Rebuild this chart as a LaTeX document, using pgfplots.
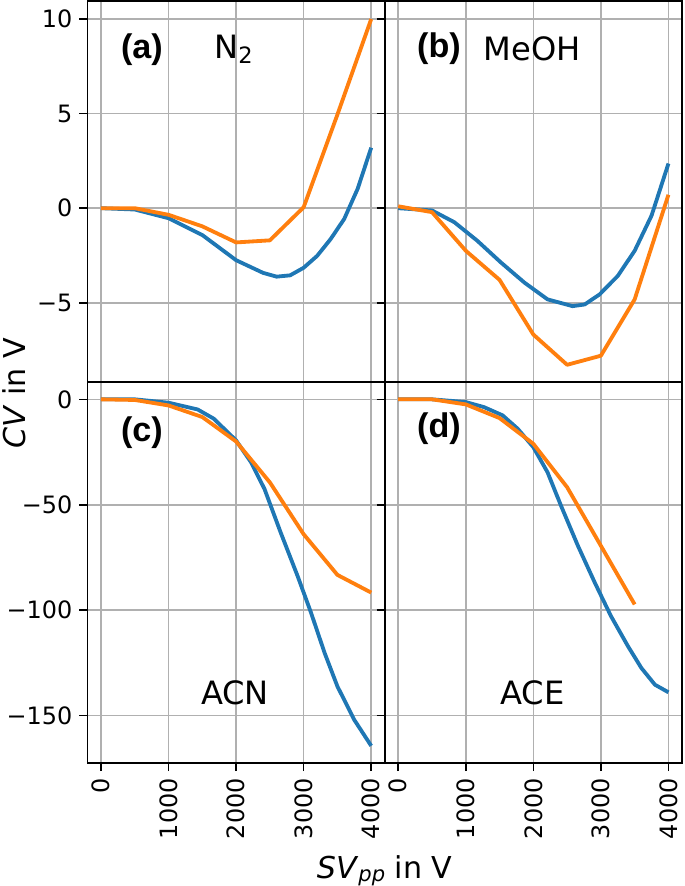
\documentclass[border=0pt]{standalone}
\usepackage{fontspec}
\setmainfont{DejaVu Sans}
\newfontfamily\arialfont{Liberation Sans}
\usepackage{pgfplots}
\pgfplotsset{compat=1.18}
\usepgfplotslibrary{groupplots}
\definecolor{mplblue}{HTML}{1F77B4}
\definecolor{mplorange}{HTML}{FF7F0E}
\begin{document}
\begin{tikzpicture}
\begin{groupplot}[
  group style={group size=2 by 2, horizontal sep=0pt, vertical sep=0pt, group name=G},
  scale only axis, width=148pt, height=189.75pt,
  xmin=-200, xmax=4200,
  xtick={0,1000,2000,3000,4000},
  grid=major, major grid style={color=black!31, line width=0.8pt},
  axis line style={line width=0.9pt},
  tick align=outside, tick pos=left,
  major tick length=4pt, tick style={black, line width=0.8pt},
  tick label style={font=\fontsize{11.9}{14}\selectfont},
  xticklabel style={rotate=90, anchor=east},
  every axis plot/.append style={line width=1.9pt, line join=round, no marks},
]
% (a) N2
\nextgroupplot[ymin=-9.19, ymax=10.96, ytick={-5,0,5,10}, yticklabels={−5,0,5,10}, xticklabels={}]
\addplot[mplblue] coordinates {(0,0) (500,-0.07) (1000,-0.53) (1500,-1.42) (2000,-2.75) (2400,-3.42) (2600,-3.62) (2800,-3.55) (3000,-3.15) (3200,-2.52) (3400,-1.63) (3600,-0.57) (3800,1.03) (4000,3.2)};
\addplot[mplorange] coordinates {(0,0) (500,0) (1000,-0.35) (1500,-0.96) (2000,-1.81) (2500,-1.70) (3000,0.05) (3500,4.95) (4000,10)};
\node[font=\fontsize{17}{20}\selectfont\arialfont\bfseries] at (axis cs:607,8.4) {(a)};
\node[font=\fontsize{16}{19}\selectfont] at (axis cs:1970,8.4) {N\textsubscript{2}};
% (b) MeOH
\nextgroupplot[ymin=-9.19, ymax=10.96, ytick={-5,0,5,10}, yticklabels={}, xticklabels={}]
\addplot[mplblue] coordinates {(0,0) (500,-0.12) (830,-0.74) (1170,-1.72) (1520,-2.87) (1870,-3.94) (2210,-4.82) (2580,-5.18) (2760,-5.09) (2980,-4.56) (3250,-3.58) (3500,-2.25) (3750,-0.39) (4000,2.36)};
\addplot[mplorange] coordinates {(0,0.1) (500,-0.21) (1000,-2.25) (1500,-3.79) (2000,-6.68) (2500,-8.28) (3000,-7.80) (3500,-4.82) (4000,0.71)};
\node[font=\fontsize{17}{20}\selectfont\arialfont\bfseries] at (axis cs:603,8.45) {(b)};
\node[font=\fontsize{16}{19}\selectfont] at (axis cs:1985,8.45) {MeOH};
% (c) ACN
\nextgroupplot[ymin=-172.6, ymax=8.22, ytick={-150,-100,-50,0}, yticklabels={−150,−100,−50,0}, xticklabels={0,1000,2000,3000,4000}]
\addplot[mplblue] coordinates {(0,0) (500,0) (1000,-1.6) (1430,-4.8) (1670,-9.2) (2000,-19.5) (2220,-29.8) (2420,-42.5) (2660,-63.2) (2910,-83.8) (3110,-101.3) (3310,-120.3) (3500,-136.2) (3750,-152.1) (4000,-164.4)};
\addplot[mplorange] coordinates {(0,0) (500,-0.3) (1000,-2.9) (1500,-8.4) (2000,-20) (2500,-39.4) (3000,-64) (3500,-83.3) (4000,-91.7)};
\node[font=\fontsize{17}{20}\selectfont\arialfont\bfseries] at (axis cs:607,-15.6) {(c)};
\node[font=\fontsize{16}{19}\selectfont] at (axis cs:1985,-139.4) {ACN};
% (d) ACE
\nextgroupplot[ymin=-172.6, ymax=8.22, ytick={-150,-100,-50,0}, yticklabels={}, xticklabels={0,1000,2000,3000,4000}]
\addplot[mplblue] coordinates {(0,0) (500,0) (1000,-1.3) (1270,-3.7) (1545,-7.6) (1770,-14) (2000,-22.7) (2210,-34.6) (2410,-50.5) (2660,-69.5) (2910,-87) (3150,-102.9) (3400,-117.1) (3600,-127.5) (3800,-135.4) (4000,-139)};
\addplot[mplorange] coordinates {(0,0) (500,0) (1000,-2.4) (1500,-8.9) (2000,-21.1) (2500,-41.7) (3000,-69.5) (3500,-97.3)};
\node[font=\fontsize{17}{20}\selectfont\arialfont\bfseries] at (axis cs:603,-14) {(d)};
\node[font=\fontsize{16}{19}\selectfont] at (axis cs:1985,-139.4) {ACE};
\end{groupplot}
\node[rotate=90, inner sep=0pt, anchor=base, font=\fontsize{15}{18}\selectfont] at ([xshift=-31pt, yshift=-5.5pt]G c1r1.south west) {\textit{CV} in V};
\node[inner sep=0pt, anchor=base, font=\fontsize{15}{18}\selectfont] at ([yshift=-57.5pt]G c1r2.south east) {\textit{SV}\raisebox{-0.1em}{\fontsize{10.5}{12}\selectfont\textit{pp}} in V};
\end{tikzpicture}
\end{document}
